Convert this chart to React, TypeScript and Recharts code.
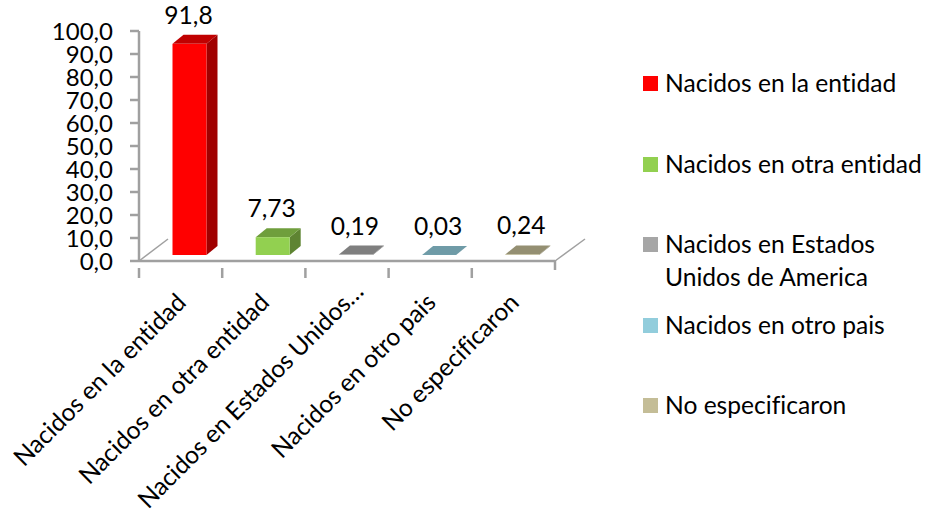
import React from "react";
import { BarChart, Bar, XAxis, YAxis, Legend, LabelList, Customized, usePlotArea } from "recharts";

const categories = [
  "Nacidos en la entidad",
  "Nacidos en otra entidad",
  "Nacidos en Estados Unidos de America",
  "Nacidos en otro pais",
  "No especificaron",
];
const tickLabels = [
  "Nacidos en la entidad",
  "Nacidos en otra entidad",
  "Nacidos en Estados Unidos…",
  "Nacidos en otro pais",
  "No especificaron",
];
const values = [91.8, 7.73, 0.19, 0.03, 0.24];
const valueLabels = ["91,8", "7,73", "0,19", "0,03", "0,24"];
const yTicks = [0, 10, 20, 30, 40, 50, 60, 70, 80, 90, 100];

const frontColors = ["#FF0000", "#92D050", "#A6A6A6", "#92CDDC", "#C4BD97"];
const topColors = ["#C00000", "#6F9E3C", "#7F7F7F", "#6F9BA7", "#948F72"];
const sideColors = ["#A00000", "#5E8432", "#6A6A6A", "#5D818B", "#7C775F"];

const FONT = "Lato, sans-serif";
const FONT_SIZE = 24.6;
const AXIS_COLOR = "#A0A0A0";
const DEPTH_X = 11;
const DEPTH_Y = 9;
const SHIFT_X = 8.5;
const SHIFT_Y = -6;

const chartData = categories.map((name, i) => ({
  name,
  tick: tickLabels[i],
  value: values[i],
  label: valueLabels[i],
}));

// barra con efecto 3D: frente, tapa y lado
function Bar3D(props: any) {
  const { x, y, width, height, index } = props;
  const left = x + SHIFT_X;
  const right = left + width;
  const top = y + SHIFT_Y;
  const bottom = top + height;
  return (
    <g>
      <path
        d={`M${right} ${top}L${right + DEPTH_X} ${top - DEPTH_Y}L${right + DEPTH_X} ${bottom - DEPTH_Y}L${right} ${bottom}Z`}
        fill={sideColors[index]}
      />
      <path
        d={`M${left} ${top}L${left + DEPTH_X} ${top - DEPTH_Y}L${right + DEPTH_X} ${top - DEPTH_Y}L${right} ${top}Z`}
        fill={topColors[index]}
      />
      <rect x={left} y={top} width={width} height={height} fill={frontColors[index]} />
    </g>
  );
}

function XTick(props: any) {
  const { x, y, payload, index } = props;
  const step = 83.2;
  // la etiqueta truncada termina mas arriba que las otras
  const long = index === 2;
  const tx = x + (long ? 18 : 7);
  const ty = y + (long ? 24 : 35);
  return (
    <g>
      <line x1={x - step / 2} x2={x - step / 2} y1={y - 1} y2={y + 9} stroke={AXIS_COLOR} strokeWidth={2.5} />
      <text
        x={tx}
        y={ty}
        transform={`rotate(-45 ${tx} ${ty})`}
        textAnchor="end"
        fontFamily={FONT}
        fontSize={FONT_SIZE}
        letterSpacing={long ? -0.15 : 0}
        style={{ fontVariantLigatures: "none" }}
        fill="#000"
      >
        {tickLabels[index] ?? payload.value}
      </text>
    </g>
  );
}

function ValueLabel(props: any) {
  const { x, y, width, index } = props;
  return (
    <text x={x + width / 2 + SHIFT_X - 1} y={y - 26} textAnchor="middle" fontFamily={FONT} fontSize={FONT_SIZE} fill="#000">
      {valueLabels[index]}
    </text>
  );
}

// piso del grafico: diagonales y ultima marca del eje X
function Floor() {
  const plot = usePlotArea();
  if (!plot) return null;
  const bottom = plot.y + plot.height;
  const left = plot.x;
  const right = plot.x + plot.width;
  return (
    <g stroke={AXIS_COLOR} strokeWidth={1.5} fill="none">
      <line x1={left} y1={bottom} x2={left + 29} y2={bottom - 22} />
      <line x1={right} y1={bottom} x2={right + 30} y2={bottom - 22} />
      <line x1={right} y1={bottom - 1} x2={right} y2={bottom + 9} strokeWidth={2.5} />
    </g>
  );
}

const legendRows = [
  { top: 66, lines: ["Nacidos en la entidad"] },
  { top: 147, lines: ["Nacidos en otra entidad"] },
  { top: 227, lines: ["Nacidos en Estados", "Unidos de America"] },
  { top: 308, lines: ["Nacidos en otro pais"] },
  { top: 388, lines: ["No especificaron"] },
];

// altura 0 para que la leyenda no le quite espacio al area del grafico
function LegendBox() {
  return (
    <div
      style={{
        position: "relative",
        width: 297,
        height: 0,
        fontFamily: FONT,
        fontSize: FONT_SIZE,
        fontVariantLigatures: "none",
        color: "#000",
      }}
    >
      {legendRows.map((row, i) => (
        <div key={categories[i]} style={{ position: "absolute", left: 0, top: row.top - 60 }}>
          <div
            style={{ position: "absolute", left: 13, top: 10, width: 15, height: 15, background: frontColors[i] }}
          />
          <div style={{ position: "absolute", left: 35, top: 0, whiteSpace: "nowrap", lineHeight: "33px" }}>
            {row.lines.map((line) => (
              <div key={line}>{line}</div>
            ))}
          </div>
        </div>
      ))}
    </div>
  );
}

export default function App() {
  return (
    <div style={{ position: "absolute", left: 0, top: 0, width: 927, height: 510, background: "#fff" }}>
      <BarChart
        width={927}
        height={510}
        data={chartData}
        barSize={34}
        margin={{ top: 31, right: 372, bottom: 0, left: 0 }}
      >
        <XAxis
          dataKey="name"
          height={249}
          interval={0}
          tick={<XTick />}
          tickLine={false}
          axisLine={{ stroke: AXIS_COLOR, strokeWidth: 2.5 }}
        />
        <YAxis
          width={139}
          domain={[0, 100]}
          ticks={yTicks}
          interval={0}
          tickSize={9}
          tickMargin={17}
          tickFormatter={(v: number) => v.toFixed(1).replace(".", ",")}
          tick={{ fontFamily: FONT, fontSize: 24, fill: "#000" }}
          tickLine={{ stroke: AXIS_COLOR, strokeWidth: 2.5 }}
          axisLine={{ stroke: AXIS_COLOR, strokeWidth: 2.5 }}
        />
        <Customized component={Floor} />
        <Legend
          content={<LegendBox />}
          wrapperStyle={{ position: "absolute", left: 630, top: 60, width: 297, height: 0 }}
        />
        <Bar dataKey="value" shape={<Bar3D />} isAnimationActive={false}>
          <LabelList dataKey="label" content={<ValueLabel />} />
        </Bar>
      </BarChart>
    </div>
  );
}
